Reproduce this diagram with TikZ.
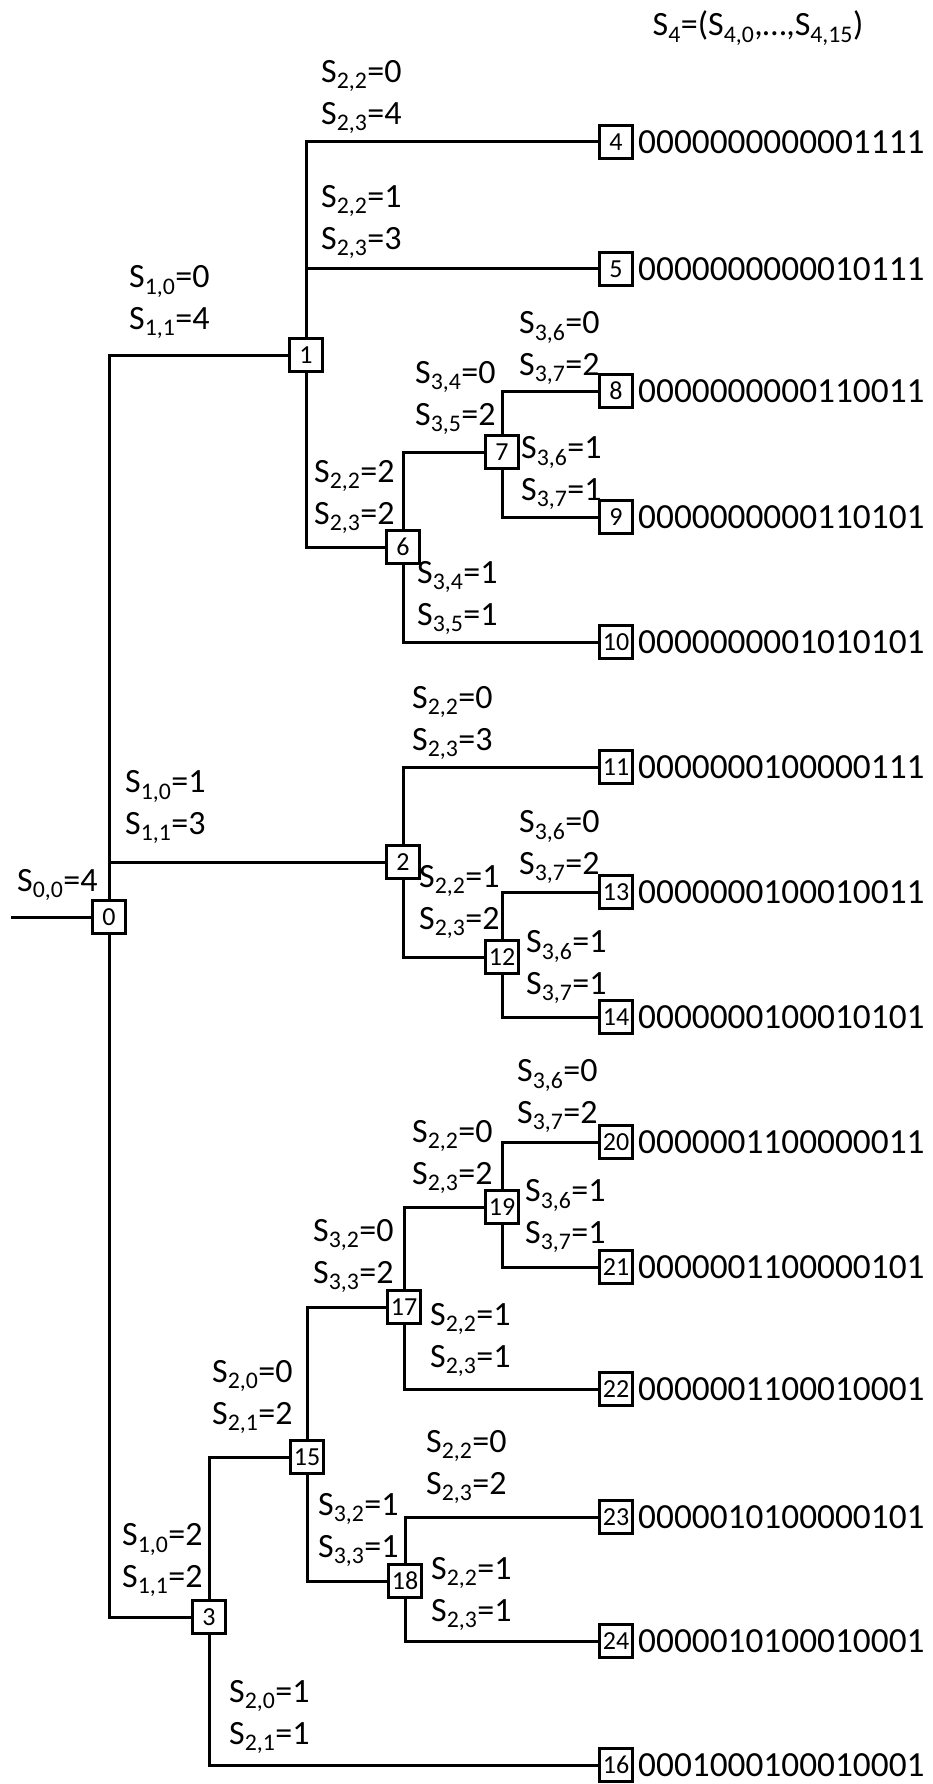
\documentclass[tikz,border=0pt]{standalone}
\usepackage{fontspec}
\setmainfont{Carlito}
\usepackage{tikz}
\usetikzlibrary{positioning}

\newcommand{\Sv}[3]{S\textsubscript{#1,#2}=#3}

\begin{document}
\begin{tikzpicture}[x=1pt, y=-1pt,
	tree/.style={line width=3pt},
	vbox/.style={draw, line width=3pt, minimum size=33pt, inner sep=0pt, font=\fontsize{26}{26}\selectfont},
	seq/.style={inner sep=0pt, font=\fontsize{35.3}{36}\selectfont},
	lab/.style={inner sep=0pt, anchor=west, align=left, font=\fontsize{34}{42}\selectfont}]
	
	\useasboundingbox (0,0) rectangle (932,1784);
	
	% ----- title
	\node[lab, anchor=center] (title) at (758,28) {S\textsubscript{4}=(S\textsubscript{4,0},\ldots,S\textsubscript{4,15})};
	
	% ----- inner vertices
	\node[vbox] (n0) at (109,917) {0};
	\node[vbox] (n1) at (306,355) {1};
	\node[vbox] (n2) at (403,862) {2};
	\node[vbox] (n3) at (209,1617) {3};
	\node[vbox] (n6) at (403,547) {6};
	\node[vbox] (n7) at (502,452) {7};
	\node[vbox] (n12) at (502,957) {12};
	\node[vbox] (n15) at (307,1457) {15};
	\node[vbox] (n17) at (404,1307) {17};
	\node[vbox] (n18) at (405,1581) {18};
	\node[vbox] (n19) at (502,1207) {19};
	
	% ----- leaves and their sequences S_4
	\node[vbox] (n4) at (616,142) {4};
	\node[seq, right=4pt of n4] (s4) {0000000000001111};
	\node[vbox] (n5) at (616,269) {5};
	\node[seq, right=4pt of n5] (s5) {0000000000010111};
	\node[vbox] (n8) at (616,391) {8};
	\node[seq, right=4pt of n8] (s8) {0000000000110011};
	\node[vbox] (n9) at (616,517) {9};
	\node[seq, right=4pt of n9] (s9) {0000000000110101};
	\node[vbox] (n10) at (616,642) {10};
	\node[seq, right=4pt of n10] (s10) {0000000001010101};
	\node[vbox] (n11) at (616,767) {11};
	\node[seq, right=4pt of n11] (s11) {0000000100000111};
	\node[vbox] (n13) at (616,892) {13};
	\node[seq, right=4pt of n13] (s13) {0000000100010011};
	\node[vbox] (n14) at (616,1017) {14};
	\node[seq, right=4pt of n14] (s14) {0000000100010101};
	\node[vbox] (n20) at (616,1142) {20};
	\node[seq, right=4pt of n20] (s20) {0000001100000011};
	\node[vbox] (n21) at (616,1267) {21};
	\node[seq, right=4pt of n21] (s21) {0000001100000101};
	\node[vbox] (n22) at (616,1389) {22};
	\node[seq, right=4pt of n22] (s22) {0000001100010001};
	\node[vbox] (n23) at (616,1517) {23};
	\node[seq, right=4pt of n23] (s23) {0000010100000101};
	\node[vbox] (n24) at (616,1641) {24};
	\node[seq, right=4pt of n24] (s24) {0000010100010001};
	\node[vbox] (n16) at (616,1765) {16};
	\node[seq, right=4pt of n16] (s16) {0001000100010001};
	
	% ----- branches
	\coordinate (in) at (11,917);
	\draw[tree] (in) -- (n0);
	\draw[tree] (n0) |- (n1);
	\draw[tree] (n0) |- (n2);
	\draw[tree] (n0) |- (n3);
	\draw[tree] (n1) |- (n4);
	\draw[tree] (n1) |- (n5);
	\draw[tree] (n1) |- (n6);
	\draw[tree] (n6) |- (n7);
	\draw[tree] (n6) |- (n10);
	\draw[tree] (n7) |- (n8);
	\draw[tree] (n7) |- (n9);
	\draw[tree] (n2) |- (n11);
	\draw[tree] (n2) |- (n12);
	\draw[tree] (n12) |- (n13);
	\draw[tree] (n12) |- (n14);
	\draw[tree] (n3) |- (n15);
	\draw[tree] (n3) |- (n16);
	\draw[tree] (n15) |- (n17);
	\draw[tree] (n15) |- (n18);
	\draw[tree] (n17) |- (n19);
	\draw[tree] (n17) |- (n22);
	\draw[tree] (n19) |- (n20);
	\draw[tree] (n19) |- (n21);
	\draw[tree] (n18) |- (n23);
	\draw[tree] (n18) |- (n24);
	
	% ----- branch labels
	\node[lab] (e0) at (17,885) {\Sv{0}{0}{4}};
	\node[lab] (e1) at (129,302) {\Sv{1}{0}{0}\\\Sv{1}{1}{4}};
	\node[lab] (e2) at (125,807) {\Sv{1}{0}{1}\\\Sv{1}{1}{3}};
	\node[lab] (e3) at (122,1560) {\Sv{1}{0}{2}\\\Sv{1}{1}{2}};
	\node[lab] (e4) at (321,97) {\Sv{2}{2}{0}\\\Sv{2}{3}{4}};
	\node[lab] (e5) at (321,222) {\Sv{2}{2}{1}\\\Sv{2}{3}{3}};
	\node[lab] (e6) at (314,497) {\Sv{2}{2}{2}\\\Sv{2}{3}{2}};
	\node[lab] (e7) at (415,398) {\Sv{3}{4}{0}\\\Sv{3}{5}{2}};
	\node[lab] (e10) at (417,598) {\Sv{3}{4}{1}\\\Sv{3}{5}{1}};
	\node[lab] (e8) at (519,348) {\Sv{3}{6}{0}\\\Sv{3}{7}{2}};
	\node[lab] (e9) at (521,473) {\Sv{3}{6}{1}\\\Sv{3}{7}{1}};
	\node[lab] (e11) at (412,723) {\Sv{2}{2}{0}\\\Sv{2}{3}{3}};
	\node[lab] (e12) at (419,902) {\Sv{2}{2}{1}\\\Sv{2}{3}{2}};
	\node[lab] (e13) at (519,847) {\Sv{3}{6}{0}\\\Sv{3}{7}{2}};
	\node[lab] (e14) at (526,967) {\Sv{3}{6}{1}\\\Sv{3}{7}{1}};
	\node[lab] (e20) at (517,1096) {\Sv{3}{6}{0}\\\Sv{3}{7}{2}};
	\node[lab] (e19) at (412,1157) {\Sv{2}{2}{0}\\\Sv{2}{3}{2}};
	\node[lab] (e21) at (525,1216) {\Sv{3}{6}{1}\\\Sv{3}{7}{1}};
	\node[lab] (e17) at (313,1256) {\Sv{3}{2}{0}\\\Sv{3}{3}{2}};
	\node[lab] (e22) at (430,1340) {\Sv{2}{2}{1}\\\Sv{2}{3}{1}};
	\node[lab] (e15) at (212,1397) {\Sv{2}{0}{0}\\\Sv{2}{1}{2}};
	\node[lab] (e23) at (426,1467) {\Sv{2}{2}{0}\\\Sv{2}{3}{2}};
	\node[lab] (e18) at (318,1530) {\Sv{3}{2}{1}\\\Sv{3}{3}{1}};
	\node[lab] (e24) at (431,1594) {\Sv{2}{2}{1}\\\Sv{2}{3}{1}};
	\node[lab] (e16) at (229,1717) {\Sv{2}{0}{1}\\\Sv{2}{1}{1}};
	
\end{tikzpicture}
\end{document}
